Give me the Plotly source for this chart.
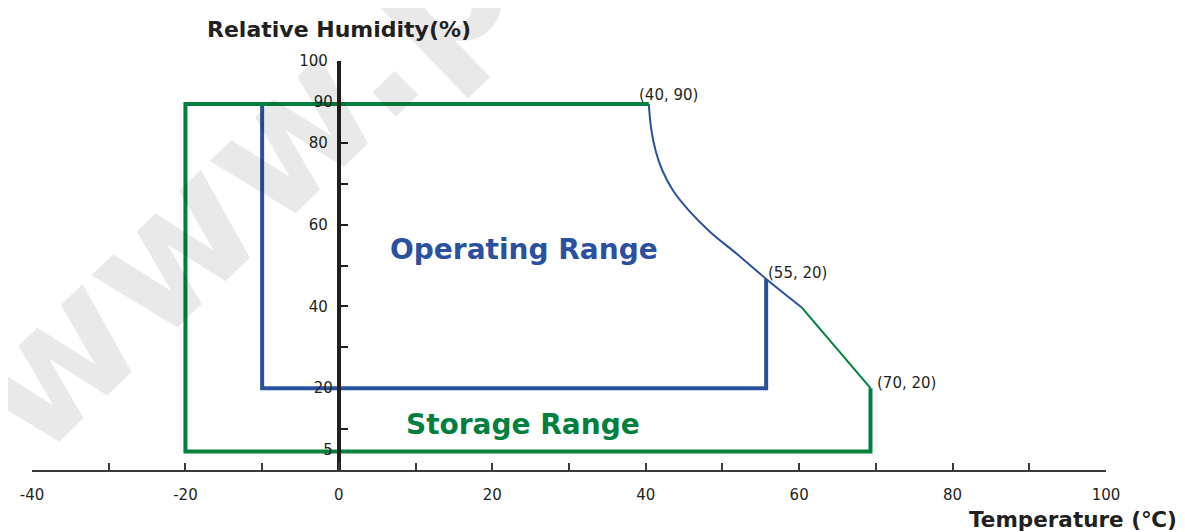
import plotly.graph_objects as go

# ---- data ----
storage_x = [40.4, -20, -20, 69.3, 69.3]
storage_y = [89.5, 89.5, 4.5, 4.5, 20]
storage_diag_x = [60.3, 69.3]
storage_diag_y = [39.8, 20]

operating_x = [55.7, 55.7, -10, -10]
operating_y = [46.7, 20, 20, 89.5]
curve_x = [40.4, 40.7, 41.3, 42.2, 43.6, 45.55, 48.4, 51.9, 55.7, 60.3]
curve_y = [89.5, 83.6, 78.0, 73.1, 68.2, 63.6, 58.2, 52.8, 46.7, 39.8]

x_tickvals = [-40, -20, 0, 20, 40, 60, 80, 100]
x_ticktext = ["-40", "-20", "0", "20", "40", "60", "80", "100"]
y_tick_vals = [10, 30, 40, 50, 60, 70, 80, 100]
y_tick_text = ["", "", "40", "", "60", "", "80", "100"]
y_label_vals = [5, 20, 90]
y_label_text = ["5", "20", "90"]

point_labels = ["(40, 90)", "(55, 20)", "(70, 20)"]
point_label_x = [38.8, 55.7, 69.9]
point_label_y = [91.7, 48.2, 21.3]

GREEN = "#00803e"
BLUE = "#2a50a0"
DARK = "#231f20"
FONT = "DejaVu Sans"

# plot area in page pixels (used only to place paper-referenced texts)
PL, PR, PT, PB = 21, 1106, 61, 470

def px(x):
    return (x - PL) / (PR - PL)

def py(y):
    return (PB - y) / (PB - PT)

fig = go.Figure()

fig.add_trace(go.Scatter(x=curve_x, y=curve_y, mode="lines",
                         line=dict(color=BLUE, width=2, shape="spline", smoothing=1.0),
                         hoverinfo="skip", showlegend=False))
fig.add_trace(go.Scatter(x=operating_x, y=operating_y, mode="lines", line=dict(color=BLUE, width=4),
                         hoverinfo="skip", showlegend=False))
fig.add_trace(go.Scatter(x=storage_diag_x, y=storage_diag_y, mode="lines", line=dict(color=GREEN, width=2),
                         hoverinfo="skip", showlegend=False, yaxis="y2"))
fig.add_trace(go.Scatter(x=storage_x, y=storage_y, mode="lines", line=dict(color=GREEN, width=4),
                         hoverinfo="skip", showlegend=False, yaxis="y2"))

annotations = []
# faint watermark
annotations.append(dict(text="<b>www.p</b>", x=px(228), y=py(184), xref="paper", yref="paper",
                        xanchor="center", yanchor="middle", showarrow=False,
                        textangle=-44, font=dict(family=FONT, size=178, color="rgba(0,0,0,0.085)")))
annotations.append(dict(text="<b>Operating Range</b>", x=24.1, y=53.8, xref="x", yref="y", showarrow=False,
                        font=dict(family=FONT, size=28, color=BLUE)))
annotations.append(dict(text="<b>Storage Range</b>", x=24, y=11.2, xref="x", yref="y", showarrow=False,
                        font=dict(family=FONT, size=28, color=GREEN)))
for t, lx, ly in zip(point_labels, point_label_x, point_label_y):
    annotations.append(dict(text=t, x=lx, y=ly, xref="x", yref="y", showarrow=False, xanchor="left",
                            yanchor="middle", font=dict(family=FONT, size=15, color=DARK)))
annotations.append(dict(text="<b>Relative Humidity(%)</b>", x=px(331), y=py(29),
                        xref="paper", yref="paper", xanchor="center", yanchor="middle",
                        showarrow=False, font=dict(family=FONT, size=22, color=DARK)))
annotations.append(dict(text="<b>Temperature (℃)</b>", x=px(1180), y=py(519),
                        xref="paper", yref="paper", xanchor="right", yanchor="middle",
                        showarrow=False, font=dict(family=FONT, size=21.5, color=DARK)))

fig.update_layout(
    width=1177, height=524,
    margin=dict(l=13, r=79, t=53, b=62),
    plot_bgcolor="white", paper_bgcolor="white",
    font=dict(family=FONT, size=15, color=DARK),
    annotations=annotations,
    xaxis=dict(range=[-40, 100], showgrid=False, zeroline=False, showline=True, linecolor="#3a3a3a", linewidth=2,
               ticks="inside", ticklen=7, tickwidth=2, tickcolor="#3a3a3a",
               tickvals=x_tickvals, ticktext=x_ticktext, ticklabelstandoff=10,
               minor=dict(ticks="inside", dtick=10, ticklen=7, tickwidth=2, tickcolor="#3a3a3a"),
               tickfont=dict(family=FONT, size=15, color=DARK)),
    yaxis=dict(range=[0, 100], anchor="free", position=40 / 140, showgrid=False, zeroline=False,
               showline=True, linecolor=DARK, linewidth=4, ticks="inside", ticklen=7, tickwidth=2,
               tickcolor=DARK, tickvals=y_tick_vals, ticktext=y_tick_text, ticklabelstandoff=6,
               tickfont=dict(family=FONT, size=15, color=DARK)),
    yaxis2=dict(range=[0, 100], overlaying="y", anchor="free", position=40 / 140, side="left",
                showgrid=False, zeroline=False, showline=False, ticks="", tickvals=y_label_vals,
                ticktext=y_label_text, ticklabelstandoff=6, tickfont=dict(family=FONT, size=15, color=DARK)),
)

fig.write_html("out.html")
